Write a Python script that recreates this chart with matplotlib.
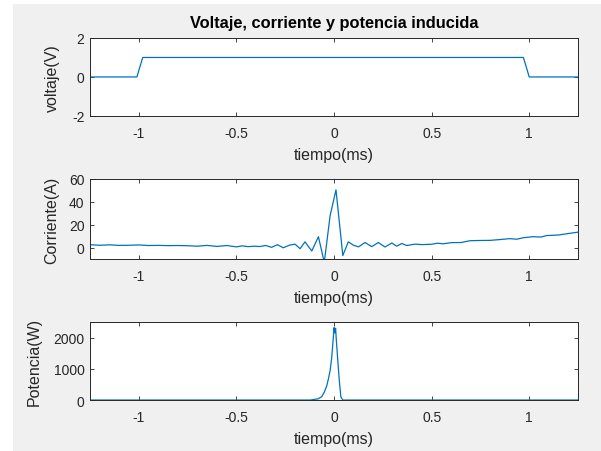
import matplotlib
matplotlib.use("Agg")
from matplotlib import pyplot as plt
from matplotlib.patches import Rectangle

plt.rcParams['font.family'] = ['Liberation Sans', 'DejaVu Sans']
plt.rcParams['axes.unicode_minus'] = False   # MATLAB style hyphen minus

# Voltage (V) vs time (ms)
t_volt = [-1.25, -1.01, -0.98, 0.97, 1.0, 1.25]
volt = [0, 0, 1, 1, 0, 0]

# Current (A) vs time (ms)
t_curr = [-1.25, -1.2, -1.15, -1.1, -1.05, -1.0, -0.95, -0.9, -0.85, -0.8,
          -0.75, -0.7, -0.65, -0.6, -0.55, -0.5, -0.47, -0.44, -0.41, -0.38,
          -0.35, -0.32, -0.29, -0.26, -0.23, -0.2, -0.174, -0.149, -0.114, -0.08,
          -0.05, -0.02, 0.01, 0.045, 0.073, 0.1, 0.125, 0.159, 0.193, 0.227,
          0.261, 0.296, 0.321, 0.347, 0.372, 0.415, 0.45, 0.5, 0.53, 0.56,
          0.6, 0.65, 0.697, 0.75, 0.8, 0.85, 0.9, 0.936, 0.97, 1.02,
          1.06, 1.09, 1.15, 1.19, 1.25]
curr = [2.5, 2.0, 2.4, 1.9, 2.0, 2.3, 1.8, 1.9, 1.7, 1.8,
        1.6, 1.2, 1.9, 1.0, 1.8, 0.6, 1.5, 0.8, 1.2, 0.9,
        1.8, 0.2, 2.5, -0.2, 2.0, 3.0, -1.0, 5.0, -3.0, 9.5,
        -13.0, 28.0, 50.5, -7.0, 5.0, 2.0, 0.6, 4.4, 0.8, 4.4,
        0.5, 4.0, 1.2, 3.6, 1.8, 3.0, 2.6, 2.9, 3.8, 3.3,
        4.3, 4.4, 6.0, 6.2, 6.3, 7.0, 7.8, 7.3, 8.6, 9.5,
        9.2, 10.5, 11.0, 12.0, 13.5]

# Power (W) vs time (ms)
t_pot = [-1.25, -0.12, -0.1, -0.08, -0.063, -0.05, -0.037, -0.028, -0.02, -0.012,
         -0.005, 0.0, 0.004, 0.008, 0.012, 0.02, 0.027, 0.035, 0.045, 1.25]
pot = [0, 0, 20, 40, 110, 250, 460, 700, 950, 1350,
       1900, 2320, 2150, 2300, 1900, 1200, 620, 100, 0, 0]

line_col = '#0072BD'
edge_col = '#262626'

fig = plt.figure(figsize=(6.01, 4.52), dpi=100, facecolor='white')
# grey window area of the screenshot
fig.patches.append(Rectangle((0.0216, 0), 1, 0.989, transform=fig.transFigure,
                             facecolor='#f0f0f0', edgecolor='none', zorder=-10))

w = 0.812
ax1 = fig.add_axes([0.1498, 0.7412, w, 0.1726])
ax2 = fig.add_axes([0.1498, 0.4248, w, 0.1770])
ax3 = fig.add_axes([0.1498, 0.1128, w, 0.1726])

ax1.plot(t_volt, volt, color=line_col, linewidth=0.9)
ax2.plot(t_curr, curr, color=line_col, linewidth=0.9)
ax3.plot(t_pot, pot, color=line_col, linewidth=0.9)

ax1.set_ylim(-2, 2)
ax1.set_yticks([-2, 0, 2])
ax2.set_ylim(-10, 60)
ax2.set_yticks([0, 20, 40, 60])
ax3.set_ylim(0, 2500)
ax3.set_yticks([0, 1000, 2000])

ax1.set_ylabel('voltaje(V)', fontsize=11.5, color=edge_col)
ax2.set_ylabel('Corriente(A)', fontsize=11.5, color=edge_col)
ax3.set_ylabel('Potencia(W)', fontsize=11.5, color=edge_col)
ax1.yaxis.set_label_coords(-0.062, 0.5)
ax2.yaxis.set_label_coords(-0.064, 0.5)
ax3.yaxis.set_label_coords(-0.099, 0.5)

ax1.set_title('Voltaje, corriente y potencia inducida', fontsize=11.8,
              fontweight='bold', color='black', pad=8)

for ax in (ax1, ax2, ax3):
    ax.set_xlim(-1.25, 1.25)
    ax.set_xticks([-1, -0.5, 0, 0.5, 1])
    ax.set_xticklabels(['-1', '-0.5', '0', '0.5', '1'])
    ax.set_xlabel('tiempo(ms)', fontsize=11.5, color=edge_col, labelpad=5)
    ax.tick_params(direction='in', length=3, width=0.6, top=True, right=True,
                   labelsize=10, colors=edge_col)
    ax.tick_params(axis='x', pad=7)
    ax.tick_params(axis='y', pad=4)
    for s in ax.spines.values():
        s.set_color(edge_col)
        s.set_linewidth(0.7)

fig.savefig('out.png', dpi=100, facecolor='white')
